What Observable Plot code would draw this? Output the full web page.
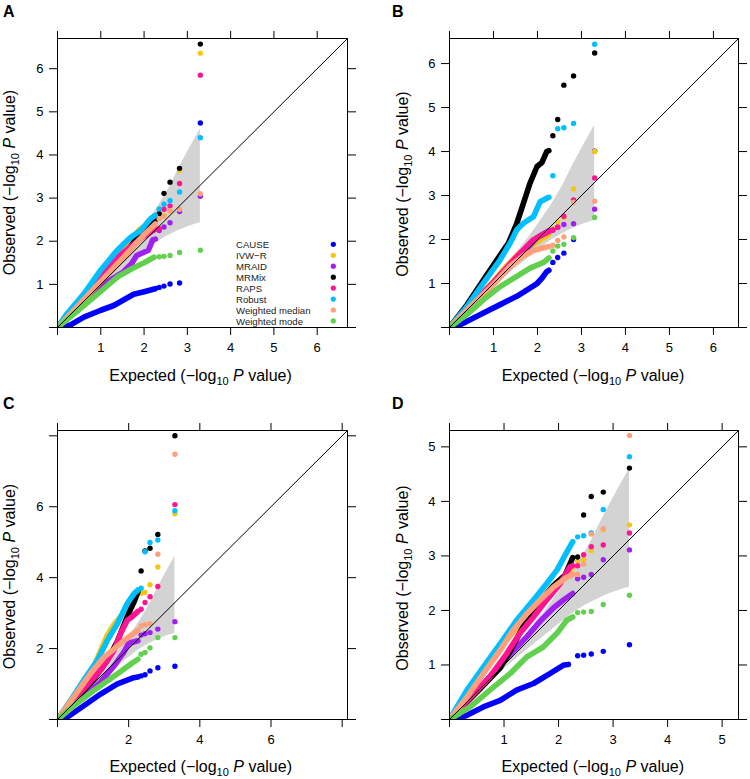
<!DOCTYPE html>
<html><head><meta charset="utf-8">
<script src="https://cdn.jsdelivr.net/npm/d3@7"></script>
<script src="https://cdn.jsdelivr.net/npm/@observablehq/plot@0.6"></script>
<style>
html,body{margin:0;padding:0;background:#fff;}
#root{position:relative;width:750px;height:779px;overflow:hidden;background:#fff;font-family:"Liberation Sans",Arial,Helvetica,sans-serif;}
#root > svg{position:absolute;}
</style></head><body><div id="root"></div>
<script>
// ---------- data ----------
const methods = ["CAUSE","IVW\u2212R","MRAID","MRMix","RAPS","Robust","Weighted median","Weighted mode"];
const colors  = ["#0000FF","#F5C710","#A020F0","#000000","#FF1493","#00BFFF","#FFA07A","#61D04F"];

// expected -log10 P of the five most extreme ranks (drawn as separate dots)
const tailX = [3.30, 2.82, 2.60, 2.46, 2.35];

// null-distribution confidence band (expected, lower, upper)
const bandX  = [0, 0.30, 0.70, 1.00, 1.30, 1.71, 2.02, 2.35, 2.60, 2.82, 3.30];
const bandLo = [0, 0.28, 0.65, 0.92, 1.18, 1.51, 1.76, 2.01, 2.15, 2.26, 2.43];
const bandHi = [0, 0.33, 0.76, 1.09, 1.43, 1.93, 2.36, 2.85, 3.28, 3.72, 4.60];

// ---- panel A ----
const tailA = [
  [4.74, 1.03, 1.01, 0.96, 0.93],
  [6.36, 3.64, 2.70, 2.60, 2.55],
  [3.04, 2.69, 2.43, 2.33, 2.25],
  [6.57, 3.69, 3.37, 3.11, 2.64],
  [5.85, 3.34, 2.82, 2.74, 2.29],
  [4.40, 3.14, 2.94, 2.86, 2.75],
  [3.10, 2.74, 2.71, 2.58, 2.52],
  [1.79, 1.74, 1.67, 1.65, 1.64]
];
const lineA = [
  [[0.12,0],[0.3,0.06],[0.61,0.24],[1.0,0.4],[1.3,0.51],[1.76,0.77],[2.0,0.83],[2.26,0.9]],
  [[0,0],[0.5,0.6],[1.0,1.2],[1.5,1.75],[1.9,2.28],[2.1,2.38],[2.26,2.5]],
  [[0,0],[0.5,0.5],[1.0,0.96],[1.3,1.15],[1.52,1.29],[1.71,1.48],[1.83,1.67],[2.1,1.79],[2.2,2.03],[2.26,2.05]],
  [[0,0],[0.5,0.53],[1.0,1.07],[1.5,1.62],[2.0,2.3],[2.1,2.4],[2.26,2.5]],
  [[0,0],[0.5,0.6],[1.0,1.25],[1.2,1.46],[1.5,1.72],[2.0,2.12],[2.26,2.28]],
  [[0,0],[0.22,0.32],[0.61,0.78],[0.99,1.32],[1.38,1.79],[1.69,2.09],[1.92,2.25],[2.15,2.52],[2.26,2.6]],
  [[0,0],[0.5,0.53],[1.0,1.07],[1.5,1.6],[2.0,2.15],[2.26,2.4]],
  [[0,0],[0.61,0.51],[1.0,0.84],[1.38,1.17],[1.75,1.38],[2.0,1.5],[2.23,1.63]]
];

// ---- panel B ----
const tailB = [
  [4.01, 2.00, 1.69, 1.59, 1.48],
  [4.00, 3.15, 2.50, 2.40, 2.25],
  [2.69, 2.36, 2.34, 2.28, 2.22],
  [6.24, 5.72, 5.51, 4.73, 4.36],
  [3.40, 2.90, 2.53, 2.28, 2.21],
  [6.44, 4.64, 4.54, 4.52, 3.45],
  [2.87, 2.85, 2.06, 1.98, 1.87],
  [2.50, 2.04, 1.89, 1.85, 1.74]
];
const lineB = [
  [[0.12,0],[0.4,0.14],[0.77,0.33],[1.15,0.52],[1.53,0.71],[1.99,1.0],[2.1,1.12],[2.21,1.27],[2.26,1.3]],
  [[0,0],[0.5,0.52],[1.0,1.05],[1.3,1.4],[1.6,1.7],[2.0,1.95],[2.26,2.12]],
  [[0,0],[0.5,0.5],[1.0,1.0],[1.5,1.52],[2.0,2.05],[2.26,2.2]],
  [[0,0],[0.4,0.52],[0.77,1.08],[1.08,1.54],[1.34,1.92],[1.53,2.37],[1.68,2.82],[1.83,3.28],[1.99,3.66],[2.1,3.75],[2.21,4.0],[2.26,4.02]],
  [[0,0],[0.5,0.52],[1.0,1.03],[1.5,1.58],[1.9,1.99],[2.1,2.1],[2.26,2.18]],
  [[0,0],[0.4,0.48],[0.77,1.01],[1.15,1.54],[1.38,1.92],[1.53,2.22],[1.68,2.37],[1.91,2.52],[2.06,2.86],[2.21,2.94],[2.26,2.96]],
  [[0,0],[0.5,0.5],[1.0,0.98],[1.38,1.4],[1.68,1.63],[1.91,1.75],[2.1,1.8],[2.26,1.84]],
  [[0,0],[0.4,0.3],[0.77,0.63],[1.15,0.93],[1.53,1.16],[1.83,1.35],[2.14,1.48],[2.26,1.58]]
];

// ---- panel C ----
const tailC = [
  [1.50, 1.46, 1.37, 1.26, 1.23],
  [5.80, 4.30, 3.80, 3.58, 3.56],
  [2.76, 2.55, 2.45, 2.42, 2.38],
  [8.00, 5.22, 4.83, 4.75, 4.19],
  [6.06, 3.75, 3.46, 3.30, 3.11],
  [5.89, 5.06, 4.99, 4.73, 3.70],
  [7.48, 4.66, 2.70, 2.67, 2.64],
  [2.31, 2.31, 2.02, 1.89, 1.84]
];
const lineC = [
  [[0.12,0],[0.25,0.05],[0.73,0.38],[1.2,0.71],[1.67,1.0],[2.14,1.18],[2.26,1.2]],
  [[0,0],[0.5,0.7],[1.0,1.45],[1.39,2.36],[1.6,2.7],[1.95,3.1],[2.26,3.55]],
  [[0,0],[0.5,0.45],[1.0,0.88],[1.2,1.04],[1.58,1.5],[1.86,1.89],[2.0,2.15],[2.26,2.22]],
  [[0,0],[0.5,0.55],[1.0,1.12],[1.4,1.67],[1.68,2.2],[1.9,2.75],[2.05,3.1],[2.15,3.31],[2.26,3.6]],
  [[0,0],[0.5,0.6],[1.0,1.15],[1.21,1.39],[1.59,1.95],[1.77,2.42],[1.96,2.8],[2.1,2.9],[2.26,3.05]],
  [[0,0],[0.37,0.54],[0.74,1.11],[1.12,1.67],[1.4,2.23],[1.68,2.7],[1.96,3.27],[2.15,3.55],[2.26,3.65]],
  [[0,0],[0.46,0.64],[0.93,1.3],[1.31,1.76],[1.6,2.0],[1.87,2.23],[2.1,2.4],[2.26,2.52]],
  [[0,0],[0.45,0.38],[1.01,0.81],[1.48,1.14],[1.86,1.42],[2.14,1.62],[2.26,1.7]]
];

// ---- panel D ----
const tailD = [
  [1.37, 1.25, 1.20, 1.18, 1.17],
  [3.57, 3.48, 3.10, 2.93, 2.90],
  [3.11, 2.93, 2.66, 2.61, 2.58],
  [4.61, 4.17, 4.09, 3.75, 2.98],
  [3.42, 3.20, 3.17, 3.02, 2.82],
  [4.82, 3.85, 3.42, 3.37, 3.35],
  [5.21, 3.50, 3.40, 2.85, 2.66],
  [2.28, 2.11, 1.98, 1.97, 1.96]
];
const lineD = [
  [[0.15,0],[0.32,0.08],[0.62,0.23],[0.93,0.35],[1.23,0.54],[1.54,0.66],[1.84,0.84],[2.1,1.0],[2.18,1.01]],
  [[0,0],[0.5,0.7],[1.0,1.4],[1.5,2.0],[2.0,2.5],[2.26,2.8]],
  [[0,0],[0.5,0.52],[1.0,1.08],[1.42,1.52],[1.66,1.8],[1.91,2.05],[2.09,2.19],[2.26,2.31]],
  [[0,0],[0.5,0.5],[0.93,0.95],[1.11,1.25],[1.35,1.7],[1.6,2.1],[1.9,2.45],[2.12,2.65],[2.26,2.97]],
  [[0,0],[0.4,0.42],[0.74,0.78],[1.05,1.21],[1.29,1.58],[1.54,1.88],[1.78,2.19],[2.03,2.49],[2.21,2.8],[2.26,2.82]],
  [[0,0],[0.32,0.54],[0.62,0.96],[0.93,1.39],[1.23,1.82],[1.54,2.19],[1.78,2.49],[1.97,2.74],[2.15,3.07],[2.26,3.26]],
  [[0,0],[0.32,0.41],[0.62,0.84],[0.93,1.27],[1.17,1.64],[1.42,1.94],[1.66,2.19],[1.91,2.43],[2.15,2.61],[2.26,2.66]],
  [[0,0],[0.38,0.23],[0.74,0.54],[1.11,0.84],[1.42,1.15],[1.72,1.33],[1.97,1.58],[2.15,1.82],[2.26,1.88]]
];

// axis extents and ticks per panel
const axisMax   = [6.7, 6.57, 8.15, 5.3];
const axisTicks = [[0,1,2,3,4,5,6],[0,1,2,3,4,5,6],[0,2,4,6,8],[0,1,2,3,4,5]];
const tickLabels= [[1,2,3,4,5,6],[1,2,3,4,5,6],[2,4,6],[1,2,3,4,5]];
const panelLetters = ["A","B","C","D"];

// ---------- layout ----------
const FONT = "Liberation Sans, Arial, Helvetica, sans-serif";
const layout = [
  {left:0,   top:0,   w:375, h:389, mt:38, mr:28, mb:62, ml:57},
  {left:375, top:0,   w:375, h:389, mt:38, mr:12, mb:62, ml:74},
  {left:0,   top:389, w:375, h:390, mt:41, mr:28, mb:60, ml:57},
  {left:375, top:389, w:375, h:390, mt:41, mr:12, mb:60, ml:74}
];
const tails = [tailA, tailB, tailC, tailD];
const lines = [lineA, lineB, lineC, lineD];

const root = document.getElementById("root");
const band = bandX.map((x,i)=>({x, lo: bandLo[i], hi: bandHi[i]}));

layout.forEach((L, p) => {
  const marks = [Plot.areaY(band, {x:"x", y1:"lo", y2:"hi", fill:"#D3D3D3", curve:"monotone-x"})];
  methods.forEach((m, k) => {
    const pts = lines[p][k].map(([x,y]) => ({x, y, m}));
    marks.push(Plot.line(pts, {x:"x", y:"y", stroke:"m", strokeWidth:5.6,
      strokeLinecap:"round", strokeLinejoin:"round", clip:true}));
    const tp = tails[p][k].map((y,i) => ({x: tailX[i], y, m}));
    marks.push(Plot.dot(tp, {x:"x", y:"y", fill:"m", r:2.7, clip:true}));
  });
  const mx = axisMax[p];
  marks.push(Plot.line([{x:0,y:0},{x:mx,y:mx}], {x:"x", y:"y", stroke:"black", strokeWidth:1}));
  marks.push(Plot.frame({stroke:"black", strokeWidth:1}));
  const fmt = d => tickLabels[p].includes(d) ? String(d) : "";
  marks.push(Plot.axisX({ticks:axisTicks[p], tickSize:8, tickPadding:7, tickFormat:fmt, label:null, fontSize:13}));
  marks.push(Plot.axisX({anchor:"top", ticks:axisTicks[p], tickSize:8, tickFormat:()=>"", label:null}));
  marks.push(Plot.axisY({ticks:axisTicks[p], tickSize:8, tickPadding:6, tickFormat:fmt, label:null, fontSize:13}));
  marks.push(Plot.axisY({anchor:"right", ticks:axisTicks[p], tickSize:8, tickFormat:()=>"", label:null}));

  const svg = Plot.plot({
    width:L.w, height:L.h,
    marginTop:L.mt, marginRight:L.mr, marginBottom:L.mb, marginLeft:L.ml,
    x:{domain:[0,mx]}, y:{domain:[0,mx]},
    color:{domain:methods, range:colors},
    style:{fontFamily:FONT, fontSize:"13px", color:"black", background:"white"},
    marks
  });
  svg.style.left = L.left + "px";
  svg.style.top = L.top + "px";
  root.appendChild(svg);
});

// ---------- text overlay (panel letters, axis titles, legend) ----------
const ov = d3.select(root).append("svg")
  .attr("width",750).attr("height",779)
  .style("left","0px").style("top","0px")
  .style("pointer-events","none")
  .attr("font-family", FONT);

const letterPos = [[3,16.7],[392,16.7],[3,409],[392,409]];
panelLetters.forEach((t,i)=>{
  ov.append("text").attr("x",letterPos[i][0]).attr("y",letterPos[i][1])
    .attr("font-size",16).attr("font-weight","bold").attr("fill","black").text(t);
});

function axisTitle(g, word){
  g.append("tspan").text(word + " (\u2212log");
  g.append("tspan").attr("font-size",11).attr("dy",3.5).text("10");
  g.append("tspan").attr("dy",-3.5).text(" ");
  g.append("tspan").attr("font-style","italic").text("P");
  g.append("tspan").text(" value)");
}
const xTitle = [[200.5,381],[593,381],[200.7,772],[592.8,772]];
const yTitle = [[15,182.5],[408.3,184],[15,576.5],[408.3,578]];
for (let i=0;i<4;i++){
  const tx = ov.append("text").attr("x",xTitle[i][0]).attr("y",xTitle[i][1])
    .attr("text-anchor","middle").attr("font-size",16).attr("fill","black");
  axisTitle(tx,"Expected");
  const ty = ov.append("text").attr("transform",`translate(${yTitle[i][0]},${yTitle[i][1]}) rotate(-90)`)
    .attr("text-anchor","middle").attr("font-size",16).attr("fill","black");
  axisTitle(ty,"Observed");
}

// legend in panel A
methods.forEach((m,i)=>{
  ov.append("text").attr("x",236).attr("y",248.3 + 10.95*i)
    .attr("font-size",9.6).attr("fill","#222").text(m);
  ov.append("circle").attr("cx",333.3).attr("cy",244.3 + 10.95*i)
    .attr("r",2.6).attr("fill",colors[i]);
});
</script></body></html>
